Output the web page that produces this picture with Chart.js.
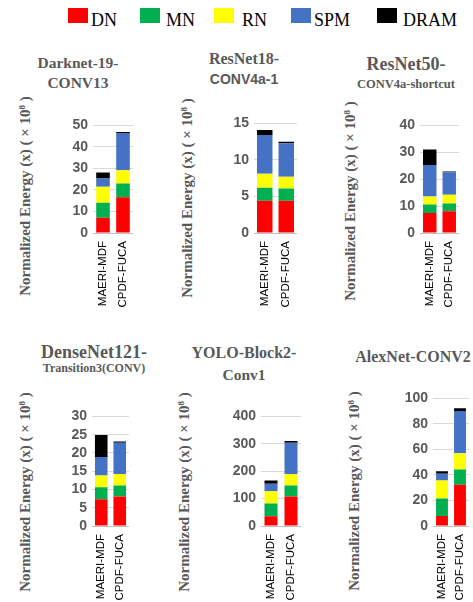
<!DOCTYPE html>
<html><head><meta charset="utf-8">
<script src="https://cdn.jsdelivr.net/npm/chart.js@4.4.0/dist/chart.umd.min.js"></script>
<style>
html,body{margin:0;padding:0;background:#fff;}
body{width:473px;height:602px;overflow:hidden;position:relative;}
.abs{position:absolute;}
.leg-sw{position:absolute;width:20px;height:15px;}
.leg-tx{position:absolute;font-family:'Liberation Serif','Times New Roman',serif;font-size:18px;color:#000;line-height:18px;white-space:nowrap;}
.ttl{position:absolute;font-weight:bold;color:#595959;white-space:nowrap;transform:translate(-50%,-50%);line-height:1;}
.ytl{position:absolute;font-family:'Liberation Serif','Times New Roman',serif;font-weight:bold;color:#595959;font-size:15px;white-space:nowrap;transform:translate(-50%,-50%) rotate(-90deg);line-height:1;}
.ytl sup{font-size:0.6em;vertical-align:0.55em;line-height:0;}
</style></head><body>
<div id="root"></div>
<script>
// ---------- data ----------
const categories = ['MAERI-MDF', 'CPDF-FUCA'];
const seriesNames = ['DN', 'MN', 'RN', 'SPM', 'DRAM'];
const seriesColors = ['#FF0000', '#00B050', '#FFFF00', '#4472C4', '#000000'];
// each row: one series (DN, MN, RN, SPM, DRAM) as [MAERI-MDF, CPDF-FUCA]
const darknet19Conv13       = [[7.1, 16.6], [6.9, 6.4], [7.5, 6.2], [3.8, 17.3], [2.8, 0.4]];
const resnet18Conv4a1       = [[4.4, 4.4], [1.8, 1.7], [1.9, 1.6], [5.3, 4.6], [0.7, 0.2]];
const resnet50Conv4aShort   = [[7.4, 8.1], [3.2, 2.9], [3.0, 3.2], [11.7, 8.4], [5.7, 0.3]];
const densenet121Trans3     = [[7.3, 8.1], [3.3, 3.0], [3.2, 3.1], [5.1, 8.6], [6.0, 0.3]];
const yoloBlock2Conv1       = [[36, 108], [46, 40], [45, 42], [27, 114], [12, 6]];
const alexnetConv2          = [[7.8, 32.4], [13.7, 11.9], [14.2, 12.7], [5.3, 33.1], [2.0, 2.1]];
const panelData = [darknet19Conv13, resnet18Conv4a1, resnet50Conv4aShort, densenet121Trans3, yoloBlock2Conv1, alexnetConv2];
const yMax  = [50, 15, 40, 30, 400, 100];
const yStep = [10, 5, 10, 5, 100, 20];
const titleMain = ['Darknet-19-', 'ResNet18-', 'ResNet50-', 'DenseNet121-', 'YOLO-Block2-', 'AlexNet-CONV2'];
const titleSub  = ['CONV13', 'CONV4a-1', 'CONV4a-shortcut', 'Transition3(CONV)', 'Conv1', ''];
const yTitleHTML = 'Normalized Energy (x) ( × 10<sup>8</sup> )';

// ---------- layout (positions / styles) ----------
const SERIF = "'Liberation Serif','Times New Roman',serif";
const SANS = "'Liberation Sans',Arial,sans-serif";
const geo = [
  {L: 92.5, R: 132.5, T: 124,   B: 232.7, bar: 0.68, tx: 78,  ty1: 63,  ty2: 83,  f1: 15.5, f2: 15.5, fam2: SERIF, yx: 25,  yy: 196},
  {L: 254.3, R: 297,  T: 121.7, B: 232.7, bar: 0.72, tx: 244, ty1: 59,  ty2: 79,  f1: 16,   f2: 14,   fam2: SANS,  yx: 187, yy: 198},
  {L: 419.7, R: 458.7, T: 124,  B: 232.7, bar: 0.69, tx: 406, ty1: 64,  ty2: 84,  f1: 18,   f2: 12.5, fam2: SERIF, yx: 350, yy: 201},
  {L: 91.7, R: 128.3, T: 415,   B: 526,   bar: 0.68, tx: 94,  ty1: 352, ty2: 368, f1: 18,   f2: 12,   fam2: SERIF, yx: 25,  yy: 492},
  {L: 260.7, R: 300.7, T: 415,  B: 526,   bar: 0.65, tx: 244, ty1: 353, ty2: 375, f1: 16,   f2: 15.5, fam2: SERIF, yx: 184, yy: 492},
  {L: 433.3, R: 469.3, T: 397.3, B: 526,  bar: 0.66, tx: 413, ty1: 357, ty2: 0,   f1: 16,   f2: 16,   fam2: SERIF, yx: 354, yy: 491}
];
const legendPos = [
  {sx: 68, tx: 91}, {sx: 140, tx: 166}, {sx: 214, tx: 242}, {sx: 291, tx: 314}, {sx: 377, tx: 403}
];

const root = document.getElementById('root');

// legend
seriesNames.forEach((n, k) => {
  const sw = document.createElement('div');
  sw.className = 'leg-sw';
  sw.style.left = legendPos[k].sx + 'px';
  sw.style.top = '8px';
  sw.style.background = seriesColors[k];
  root.appendChild(sw);
  const tx = document.createElement('div');
  tx.className = 'leg-tx';
  tx.style.left = legendPos[k].tx + 'px';
  tx.style.top = '11px';
  tx.textContent = n;
  root.appendChild(tx);
});

const AX = 46, PT = 12, PR = 18, XH = 82;

panelData.forEach((data, i) => {
  const g = geo[i];
  // titles
  const t1 = document.createElement('div');
  t1.className = 'ttl';
  t1.style.fontFamily = SERIF;
  t1.style.fontSize = g.f1 + 'px';
  t1.style.left = g.tx + 'px';
  t1.style.top = g.ty1 + 'px';
  t1.textContent = titleMain[i];
  root.appendChild(t1);
  if (titleSub[i]) {
    const t2 = document.createElement('div');
    t2.className = 'ttl';
    t2.style.fontFamily = g.fam2;
    t2.style.fontSize = g.f2 + 'px';
    t2.style.left = g.tx + 'px';
    t2.style.top = g.ty2 + 'px';
    t2.textContent = titleSub[i];
    root.appendChild(t2);
  }
  // y title
  const yt = document.createElement('div');
  yt.className = 'ytl';
  yt.style.left = g.yx + 'px';
  yt.style.top = g.yy + 'px';
  yt.innerHTML = yTitleHTML;
  root.appendChild(yt);

  // chart
  const left = Math.round(g.L) - AX;
  const top = Math.round(g.T) - PT;
  const w = AX + Math.round(g.R - g.L) + PR;
  const h = PT + Math.round(g.B - g.T) + XH;
  const box = document.createElement('div');
  box.className = 'abs';
  box.style.left = left + 'px';
  box.style.top = top + 'px';
  box.style.width = w + 'px';
  box.style.height = h + 'px';
  const cv = document.createElement('canvas');
  cv.width = w; cv.height = h;
  cv.style.width = w + 'px'; cv.style.height = h + 'px';
  box.appendChild(cv);
  root.appendChild(box);

  new Chart(cv, {
    type: 'bar',
    data: {
      labels: categories,
      datasets: seriesNames.map((n, k) => ({
        label: n,
        data: data[k],
        backgroundColor: seriesColors[k],
        borderWidth: 0,
        barPercentage: g.bar,
        categoryPercentage: 1
      }))
    },
    options: {
      responsive: false,
      animation: false,
      devicePixelRatio: 1,
      layout: {padding: {left: 0, top: PT, right: PR, bottom: 0}},
      plugins: {legend: {display: false}, title: {display: false}, tooltip: {enabled: false}},
      scales: {
        x: {
          stacked: true,
          grid: {display: false, drawTicks: false},
          border: {display: false},
          ticks: {
            font: {family: SANS, size: 11.5},
            color: '#000',
            minRotation: 90,
            maxRotation: 90,
            padding: 8,
            autoSkip: false
          },
          afterFit: (s) => { s.height = XH; }
        },
        y: {
          stacked: true,
          min: 0,
          max: yMax[i],
          grid: {
            color: (c) => (c.tick && c.tick.value === 0 ? '#BFBFBF' : '#D9D9D9'),
            lineWidth: 1,
            drawTicks: false
          },
          border: {display: false},
          ticks: {
            stepSize: yStep[i],
            autoSkip: false,
            font: {family: SANS, size: 14, weight: 'bold'},
            color: '#595959',
            padding: 5
          },
          afterFit: (s) => { s.width = AX; }
        }
      }
    }
  });
});
</script>
</body></html>
